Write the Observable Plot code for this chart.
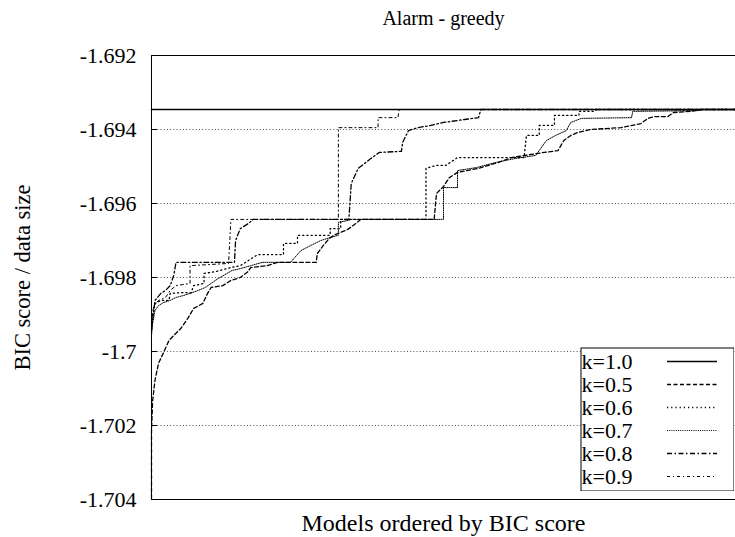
<!DOCTYPE html>
<html>
<head>
<meta charset="utf-8">
<script src="https://cdn.jsdelivr.net/npm/d3@7"></script>
<script src="https://cdn.jsdelivr.net/npm/@observablehq/plot@0.6"></script>
<style>
  html, body { margin: 0; padding: 0; background: #fff; overflow: hidden; }
  #chart { position: relative; width: 735px; height: 537px; }
  #legend { position: absolute; left: 580px; top: 347px; }
  #chart svg, #chart svg text {
    font-family: "Liberation Serif", "DejaVu Serif", "Times New Roman", Times, serif !important;
  }
</style>
</head>
<body>
<div id="chart"></div>
<script>
// Texts
const titleText = "Alarm - greedy";
const xLabel = "Models ordered by BIC score";
const yLabel = "BIC score / data size";
const labels = ["k=1.0", "k=0.5", "k=0.6", "k=0.7", "k=0.8", "k=0.9"];
const yTicks = [-1.692, -1.694, -1.696, -1.698, -1.7, -1.702, -1.704];

// Models ranked by score (rank) and the BIC score / data size of each run
const rank10 = [0, 500];
const score10 = [-1.69346, -1.69346];

const rank05 = [0,0,1,3,6,10,15,19,25,31,36,44,48,51,61,68,76,82,85,99,108,141,142,147,152,156,168,175,179,242,244,250,255,262,280,297,308,336,348,353,359,365,376,402,419,425,431,442,447,462,471,500];
const score05 = [-1.70397,-1.70214,-1.70132,-1.70078,-1.70032,-1.70005,-1.69970,-1.69957,-1.69938,-1.69911,-1.69884,-1.69870,-1.69843,-1.69827,-1.69822,-1.69808,-1.69800,-1.69786,-1.69773,-1.69768,-1.69759,-1.69759,-1.69735,-1.69714,-1.69695,-1.69686,-1.69670,-1.69654,-1.69643,-1.69643,-1.69573,-1.69554,-1.69530,-1.69516,-1.69505,-1.69489,-1.69476,-1.69462,-1.69457,-1.69430,-1.69416,-1.69408,-1.69400,-1.69395,-1.69384,-1.69370,-1.69365,-1.69365,-1.69354,-1.69351,-1.69346,-1.69346];

const rank06 = [0,1,3,8,15,16,25,34,36,45,45,55,68,76,91,113,113,125,125,153,153,162,162,235,235,244,252,262,319,321,332,332,345,345,366,366,379,381,500];
const score06 = [-1.69938,-1.69903,-1.69870,-1.69862,-1.69862,-1.69843,-1.69841,-1.69841,-1.69822,-1.69816,-1.69789,-1.69784,-1.69773,-1.69768,-1.69738,-1.69738,-1.69708,-1.69708,-1.69686,-1.69686,-1.69668,-1.69668,-1.69643,-1.69643,-1.69505,-1.69497,-1.69497,-1.69476,-1.69476,-1.69416,-1.69416,-1.69389,-1.69389,-1.69362,-1.69362,-1.69351,-1.69351,-1.69346,-1.69346];

const rank07 = [0,1,3,6,10,16,21,27,33,40,46,51,57,63,69,76,85,95,119,128,136,145,153,160,160,168,171,250,250,262,262,278,295,312,329,338,346,355,359,368,411,412,468,471,500];
const score07 = [-1.69957,-1.69922,-1.69889,-1.69876,-1.69868,-1.69862,-1.69854,-1.69849,-1.69843,-1.69835,-1.69827,-1.69816,-1.69803,-1.69792,-1.69781,-1.69776,-1.69768,-1.69759,-1.69759,-1.69727,-1.69714,-1.69700,-1.69692,-1.69686,-1.69651,-1.69646,-1.69643,-1.69643,-1.69557,-1.69557,-1.69511,-1.69503,-1.69489,-1.69478,-1.69470,-1.69430,-1.69416,-1.69403,-1.69381,-1.69370,-1.69368,-1.69351,-1.69349,-1.69346,-1.69346];

const rank08 = [0,1,2,3,8,12,16,19,21,71,72,76,83,87,169,171,177,188,195,214,215,220,228,239,250,268,280,282,500];
const score08 = [-1.69943,-1.69916,-1.69889,-1.69862,-1.69843,-1.69835,-1.69822,-1.69795,-1.69759,-1.69759,-1.69700,-1.69668,-1.69654,-1.69643,-1.69643,-1.69546,-1.69505,-1.69478,-1.69462,-1.69459,-1.69435,-1.69403,-1.69395,-1.69389,-1.69381,-1.69373,-1.69368,-1.69346,-1.69346];

const rank09 = [0,2,6,12,16,21,33,33,66,68,160,160,194,194,211,212,500];
const score09 = [-1.69916,-1.69876,-1.69862,-1.69854,-1.69835,-1.69822,-1.69816,-1.69768,-1.69762,-1.69643,-1.69643,-1.69395,-1.69395,-1.69368,-1.69368,-1.69346,-1.69346];

// Line styles, one per k
const lineStyles = [
  {width: 1.6, dash: undefined},
  {width: 1.3, dash: "4,2.5"},
  {width: 1.3, dash: "1.2,3"},
  {width: 1.0, dash: "1,1.2"},
  {width: 1.3, dash: "5,2.5,1.5,2.5"},
  {width: 1.0, dash: "3,3,1,3"}
];

const toRows = (ranks, scores) => ranks.map((r, i) => ({rank: r, score: scores[i]}));
const series = [
  toRows(rank10, score10),
  toRows(rank05, score05),
  toRows(rank06, score06),
  toRows(rank07, score07),
  toRows(rank08, score08),
  toRows(rank09, score09)
];

const font = "'Liberation Serif', 'DejaVu Serif', 'Times New Roman', serif";
const W = 735, H = 537, ML = 151, MR = 0, MT = 55, MB = 38;

const chart = Plot.plot({
  width: W, height: H,
  marginLeft: ML, marginRight: MR, marginTop: MT, marginBottom: MB,
  style: {fontFamily: font, fontSize: "22px", color: "black", background: "white", overflow: "visible"},
  x: {domain: [0, 500], axis: null},
  y: {domain: [-1.704, -1.692], axis: null},
  marks: [
    Plot.gridY(yTicks, {stroke: "#555", strokeOpacity: 1, strokeWidth: 1, strokeDasharray: "1,2.2"}),
    Plot.tickY(yTicks, {y: d => d, stroke: "black", insetRight: (W - ML - MR) - 6}),
    Plot.axisY(yTicks, {label: null, tickSize: 0, tickPadding: 15, tickFormat: d => String(+d.toFixed(3)), fontSize: 22, fill: "black"}),
    ...series.map((rows, i) => Plot.line(rows, {
      x: "rank", y: "score", stroke: "black",
      strokeWidth: lineStyles[i].width, strokeDasharray: lineStyles[i].dash
    })),
    Plot.ruleY([-1.692, -1.704], {stroke: "black"}),
    Plot.ruleX([0], {stroke: "black"}),
    Plot.text([titleText], {frameAnchor: "top", lineAnchor: "middle", dy: -37, fontSize: 20, fill: "black"}),
    Plot.text([xLabel], {frameAnchor: "bottom", lineAnchor: "middle", dy: 24, fontSize: 24, fill: "black"}),
    Plot.text([yLabel], {frameAnchor: "left", textAnchor: "middle", lineAnchor: "middle", dx: -129, rotate: -90, fontSize: 22.5, fill: "black"})
  ]
});

const legend = Plot.plot({
  width: 154, height: 144, margin: 0,
  style: {fontFamily: font, fontSize: "22px", color: "black", background: "transparent"},
  x: {domain: [0, 1], axis: null},
  y: {type: "point", domain: labels, range: [12, 131], padding: 0, axis: null},
  marks: [
    Plot.frame({fill: "white", stroke: "black", inset: 0.5}),
    Plot.text(labels, {y: d => d, frameAnchor: "left", textAnchor: "start", dx: 1, fontSize: 22, fill: "black"}),
    ...labels.map((l, i) => Plot.ruleY([l], {
      y: d => d, insetLeft: 87, insetRight: 17, stroke: "black",
      strokeWidth: lineStyles[i].width, strokeDasharray: lineStyles[i].dash
    }))
  ]
});
legend.id = "legend";

const host = document.getElementById("chart");
host.appendChild(chart);
host.appendChild(legend);
</script>
</body>
</html>
